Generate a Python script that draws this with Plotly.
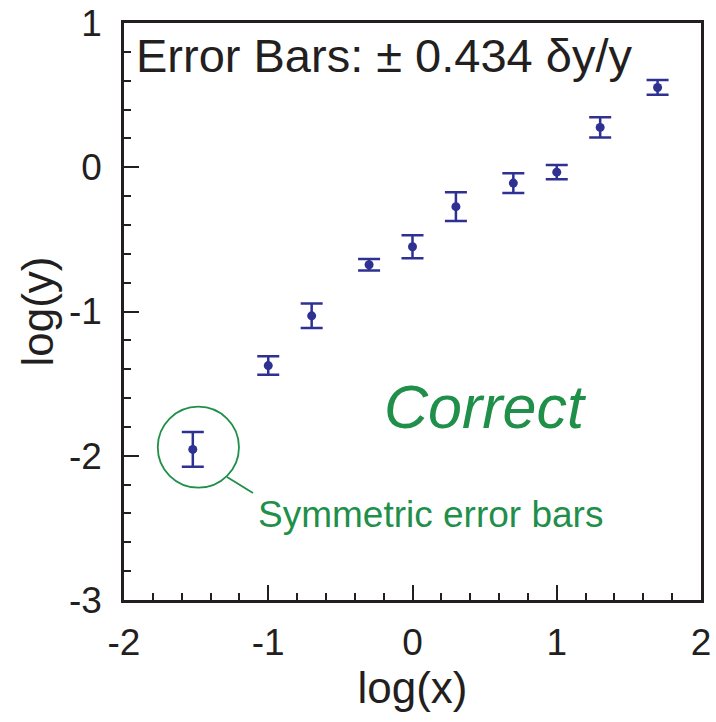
import plotly.graph_objects as go

# Data
log_x = [-1.523, -1.0, -0.699, -0.301, 0.0, 0.301, 0.699, 1.0, 1.301, 1.699]
log_y = [-1.956, -1.375, -1.03, -0.676, -0.551, -0.273, -0.11, -0.034, 0.276, 0.553]
err_y = [0.12, 0.064, 0.085, 0.04, 0.08, 0.1, 0.068, 0.05, 0.07, 0.051]

x_ticks = [-2, -1, 0, 1, 2]
y_ticks = [-3, -2, -1, 0, 1]

title_text = "Error Bars: \u00b1 0.434 \u03b4y/y"
note_text = "Correct"
callout_text = "Symmetric error bars"

BLUE = "#2E3192"
GREEN = "#1F8F4A"
FONT = "Liberation Sans, Arial, Helvetica, sans-serif"

fig = go.Figure()
fig.add_trace(go.Scatter(
    x=log_x, y=log_y, mode="markers",
    marker=dict(color=BLUE, size=9),
    error_y=dict(type="data", array=err_y, visible=True,
                 color=BLUE, thickness=2.5, width=11),
    showlegend=False, cliponaxis=False,
))

axis_common = dict(
    showgrid=False, zeroline=False, automargin=False,
    showline=True, linecolor="#231F20", linewidth=2.5, mirror=True,
    ticks="inside", ticklen=15, tickwidth=2, tickcolor="#231F20",
    tickfont=dict(family=FONT, size=37, color="#231F20"),
    minor=dict(ticks="inside", ticklen=7, tickwidth=1.5, tickcolor="#231F20", dtick=0.2),
)

fig.update_xaxes(range=[-2, 2], tickvals=x_ticks, ticktext=[str(v) for v in x_ticks],
                 ticklabelstandoff=8,
                 title=dict(text="log(x)", font=dict(family=FONT, size=44, color="#231F20"), standoff=8),
                 **axis_common)
fig.update_yaxes(range=[-3, 1], tickvals=y_ticks, ticktext=[str(v) for v in y_ticks],
                 ticklabelstandoff=12,
                 title=dict(text="log(y)", font=dict(family=FONT, size=44, color="#231F20"), standoff=2),
                 **axis_common)

# Callout circle and leader line
fig.add_shape(type="circle", xref="x", yref="y", x0=-1.766, x1=-1.203, y0=-2.221, y1=-1.660,
              line=dict(color=GREEN, width=1.8))
fig.add_shape(type="line", xref="x", yref="y", x0=-1.286, y0=-2.147, x1=-1.106, y1=-2.258,
              line=dict(color=GREEN, width=1.8))

fig.add_annotation(xref="paper", yref="paper", x=0.017, y=0.943, xanchor="left", yanchor="middle",
                   text=title_text, showarrow=False,
                   font=dict(family=FONT, size=47, color="#231F20"))
fig.add_annotation(xref="paper", yref="paper", x=0.627, y=0.334, xanchor="center", yanchor="middle",
                   text="<i>" + note_text + "</i>", showarrow=False,
                   font=dict(family=FONT, size=61, color=GREEN))
fig.add_annotation(xref="paper", yref="paper", x=0.228, y=0.149, xanchor="left", yanchor="middle",
                   text=callout_text, showarrow=False,
                   font=dict(family=FONT, size=37, color=GREEN))

fig.update_layout(
    width=716, height=722,
    margin=dict(l=124, r=15, t=23, b=122),
    paper_bgcolor="white", plot_bgcolor="white",
    font=dict(family=FONT),
)

fig.write_html("out.html")
